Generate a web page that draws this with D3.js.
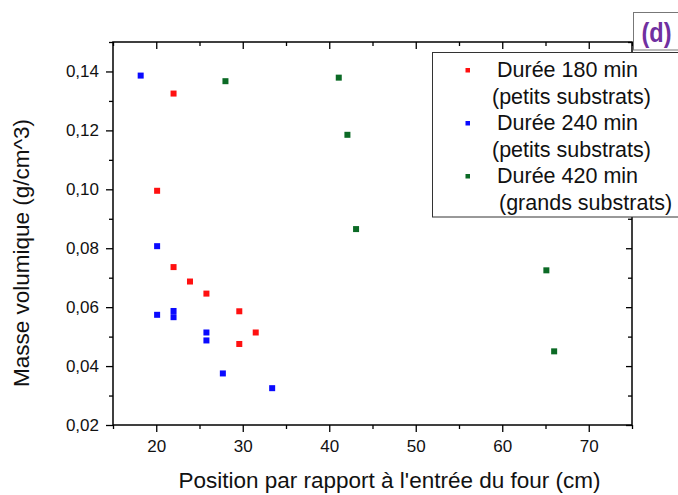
<!DOCTYPE html>
<html>
<head>
<meta charset="utf-8">
<script src="https://cdn.jsdelivr.net/npm/d3@7/dist/d3.min.js"></script>
<style>
  html, body { margin: 0; padding: 0; background: #fff; }
  svg { display: block; }
  text { font-family: "Liberation Sans", Arial, sans-serif; fill: #111; }
</style>
</head>
<body>
<svg id="chart" width="678" height="495"></svg>
<script>
// ---- Data ----
const seriesNames = ["Durée 180 min", "Durée 240 min", "Durée 420 min"];
const seriesSubtitles = ["(petits substrats)", "(petits substrats)", "(grands substrats)"];
const seriesColors = ["#ff1010", "#0a0aff", "#0b6a25"];

const s180_x = [22.0, 20.1, 22.0, 23.9, 25.8, 29.6, 31.5, 29.6];
const s180_y = [0.1325, 0.0995, 0.0736, 0.0687, 0.0646, 0.0586, 0.0514, 0.0475];

const s240_x = [18.2, 20.1, 20.1, 22.0, 22.0, 25.8, 25.8, 27.7, 33.4];
const s240_y = [0.1386, 0.0807, 0.0574, 0.0587, 0.0566, 0.0514, 0.0487, 0.0375, 0.0325];

const s420_x = [28.0, 41.1, 42.1, 43.1, 65.1, 66.0];
const s420_y = [0.1367, 0.1379, 0.1185, 0.0865, 0.0725, 0.0450];

const xMajorTicks = [20, 30, 40, 50, 60, 70];
const xMinorTicks = [15, 25, 35, 45, 55, 65, 75];
const yMajorTicks = [0.02, 0.04, 0.06, 0.08, 0.10, 0.12, 0.14];
const yMinorTicks = [0.03, 0.05, 0.07, 0.09, 0.11, 0.13, 0.15];

const xTitle = "Position par rapport à l'entrée du four (cm)";
const yTitle = "Masse volumique (g/cm^3)";
const panelLabel = "(d)";

// ---- Layout ----
const L = 113, R = 632, T = 42, B = 425;
const svg = d3.select("#chart");

const x = d3.scaleLinear().domain([15, 75]).range([L, R]);
const y = d3.scaleLinear().domain([0.02, 0.15]).range([B, T]);

const fmtY = v => d3.format(".2f")(v).replace(".", ",");

function styleAxis(g) {
  g.select(".domain").remove();
  g.selectAll(".tick line").attr("stroke", "#000").attr("stroke-width", 1.3);
  g.selectAll(".tick text").style("font-size", "17px")
    .style("font-family", '"Liberation Sans", Arial, sans-serif').attr("fill", "#111");
}

// bottom (outward)
svg.append("g").attr("transform", `translate(0,${B})`)
  .call(d3.axisBottom(x).tickValues(xMajorTicks).tickSize(7).tickPadding(8).tickFormat(d3.format("d")))
  .call(styleAxis);
svg.append("g").attr("transform", `translate(0,${B})`)
  .call(d3.axisBottom(x).tickValues(xMinorTicks).tickSize(4).tickFormat(""))
  .call(styleAxis);
// top (inward)
svg.append("g").attr("transform", `translate(0,${T})`)
  .call(d3.axisBottom(x).tickValues(xMajorTicks).tickSize(7).tickFormat(""))
  .call(styleAxis);
svg.append("g").attr("transform", `translate(0,${T})`)
  .call(d3.axisBottom(x).tickValues(xMinorTicks).tickSize(4).tickFormat(""))
  .call(styleAxis);
// left (outward)
svg.append("g").attr("transform", `translate(${L},0)`)
  .call(d3.axisLeft(y).tickValues(yMajorTicks).tickSize(7).tickPadding(7).tickFormat(fmtY))
  .call(styleAxis);
svg.append("g").attr("transform", `translate(${L},0)`)
  .call(d3.axisLeft(y).tickValues(yMinorTicks).tickSize(4).tickFormat(""))
  .call(styleAxis);
// right (inward)
svg.append("g").attr("transform", `translate(${R},0)`)
  .call(d3.axisLeft(y).tickValues(yMajorTicks).tickSize(6).tickFormat(""))
  .call(styleAxis);
svg.append("g").attr("transform", `translate(${R},0)`)
  .call(d3.axisLeft(y).tickValues(yMinorTicks).tickSize(4).tickFormat(""))
  .call(styleAxis);

// frame
svg.append("rect").attr("x", L).attr("y", T).attr("width", R - L).attr("height", B - T)
  .attr("fill", "none").attr("stroke", "#000").attr("stroke-width", 1.5);

// titles
svg.append("text").attr("x", 389.5).attr("y", 488).attr("text-anchor", "middle")
  .style("font-size", "22.5px").text(xTitle);
svg.append("text").attr("transform", "translate(28.5,253) rotate(-90)").attr("text-anchor", "middle")
  .style("font-size", "22.5px").text(yTitle);

// points
const series = [
  { xs: s180_x, ys: s180_y },
  { xs: s240_x, ys: s240_y },
  { xs: s420_x, ys: s420_y }
];
const ms = 6;
series.forEach((s, i) => {
  const pts = s.xs.map((v, j) => [v, s.ys[j]]);
  svg.append("g").selectAll("rect").data(pts).join("rect")
    .attr("x", d => x(d[0]) - ms / 2)
    .attr("y", d => y(d[1]) - ms / 2)
    .attr("width", ms).attr("height", ms)
    .attr("fill", seriesColors[i]);
});

// legend
const lg = svg.append("g");
lg.append("rect").attr("x", 432.5).attr("y", 52.5).attr("width", 260).attr("height", 164.5)
  .attr("fill", "#fff").attr("stroke", "#333").attr("stroke-width", 1);
const lineBase = [77, 103.5, 130, 156.5, 183, 209.5];
seriesNames.forEach((name, i) => {
  const b1 = lineBase[2 * i], b2 = lineBase[2 * i + 1];
  lg.append("rect").attr("x", 465.5).attr("y", b1 - 9).attr("width", 4.5).attr("height", 4.5)
    .attr("fill", seriesColors[i]);
  lg.append("text").attr("x", 497).attr("y", b1).style("font-size", "21.5px").text(name);
  lg.append("text").attr("x", i === 2 ? 499 : 492).attr("y", b2).style("font-size", "21.5px")
    .text(seriesSubtitles[i]);
});

// panel label
svg.append("rect").attr("x", 633.5).attr("y", 12.5).attr("width", 60).attr("height", 37.5)
  .attr("fill", "#fff").attr("stroke", "#777").attr("stroke-width", 1);
svg.append("text").attr("x", 641.5).attr("y", 42)
  .attr("textLength", 30).attr("lengthAdjust", "spacingAndGlyphs")
  .style("font-size", "28px").style("font-weight", "bold").style("fill", "#7030a0")
  .text(panelLabel);
</script>
</body>
</html>
